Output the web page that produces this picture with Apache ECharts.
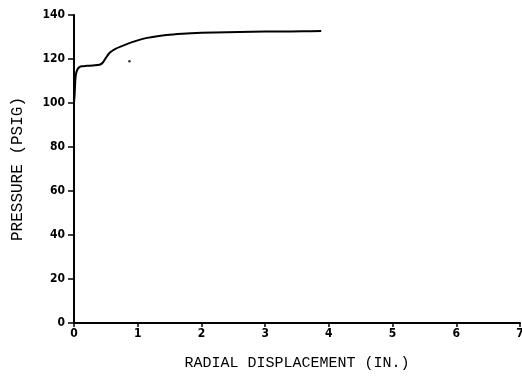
<!DOCTYPE html>
<html>
<head>
<meta charset="utf-8">
<script src="https://cdn.jsdelivr.net/npm/echarts@6/dist/echarts.min.js"></script>
<style>
  html, body { margin: 0; padding: 0; background: #fff; }
  #main { width: 522px; height: 381px; }
</style>
</head>
<body>
<div id="main"></div>
<script>
// displacement (in.) and pressure (psig)
var disp = [0, 0.01, 0.02, 0.03, 0.05, 0.08, 0.12, 0.2, 0.3, 0.4, 0.45, 0.5, 0.56, 0.65, 0.8, 0.95, 1.15, 1.45, 1.7, 2.0, 2.4, 2.8, 3.2, 3.6, 3.88];
var pressure = [100, 104, 110, 113, 115, 116.2, 116.7, 116.9, 117.1, 117.4, 118.3, 120.5, 122.8, 124.6, 126.4, 128, 129.6, 130.9, 131.5, 131.9, 132.2, 132.4, 132.5, 132.6, 132.7];
// stray dot on the original
var dot = [[0.87, 119]];

var xTicks = ['0', '1', '2', '3', '4', '5', '6', '7'];

var font = 'DejaVu Sans Condensed, Liberation Sans Narrow, sans-serif';
var mono = 'Liberation Mono, DejaVu Sans Mono, monospace';
var curve = disp.map(function (d, i) { return [d, pressure[i]]; });

var chart = echarts.init(document.getElementById('main'));
chart.setOption({
  animation: false,
  grid: { left: 74, right: 2, top: 15, bottom: 58, outerBoundsMode: 'none' },
  xAxis: {
    type: 'value',
    min: 0,
    max: 7,
    interval: 1,
    name: 'RADIAL DISPLACEMENT (IN.)',
    nameLocation: 'middle',
    nameGap: 33,
    nameTextStyle: { color: '#000', fontSize: 15, fontFamily: mono },
    axisLine: { lineStyle: { color: '#000', width: 2 } },
    axisTick: { length: 4, lineStyle: { color: '#000', width: 1.5 } },
    splitLine: { show: false },
    axisLabel: {
      color: '#000', fontSize: 12, fontWeight: 'bold', fontFamily: font, margin: 5,
      formatter: function (v) { return xTicks[v]; }
    }
  },
  yAxis: {
    type: 'value',
    min: 0,
    max: 140,
    interval: 20,
    name: 'PRESSURE (PSIG)',
    nameLocation: 'middle',
    nameGap: 48,
    nameTextStyle: { color: '#000', fontSize: 16, fontFamily: mono },
    axisLine: { show: true, lineStyle: { color: '#000', width: 2 } },
    axisTick: { show: true, length: 6, lineStyle: { color: '#000', width: 1.5 } },
    splitLine: { show: false },
    axisLabel: { color: '#000', fontSize: 12, fontWeight: 'bold', fontFamily: font, margin: 9 }
  },
  series: [
    {
      type: 'line',
      data: curve,
      smooth: 0.3,
      showSymbol: false,
      lineStyle: { color: '#000', width: 2 }
    },
    {
      type: 'scatter',
      data: dot,
      symbolSize: 2.5,
      itemStyle: { color: '#000' }
    }
  ]
});
</script>
</body>
</html>
